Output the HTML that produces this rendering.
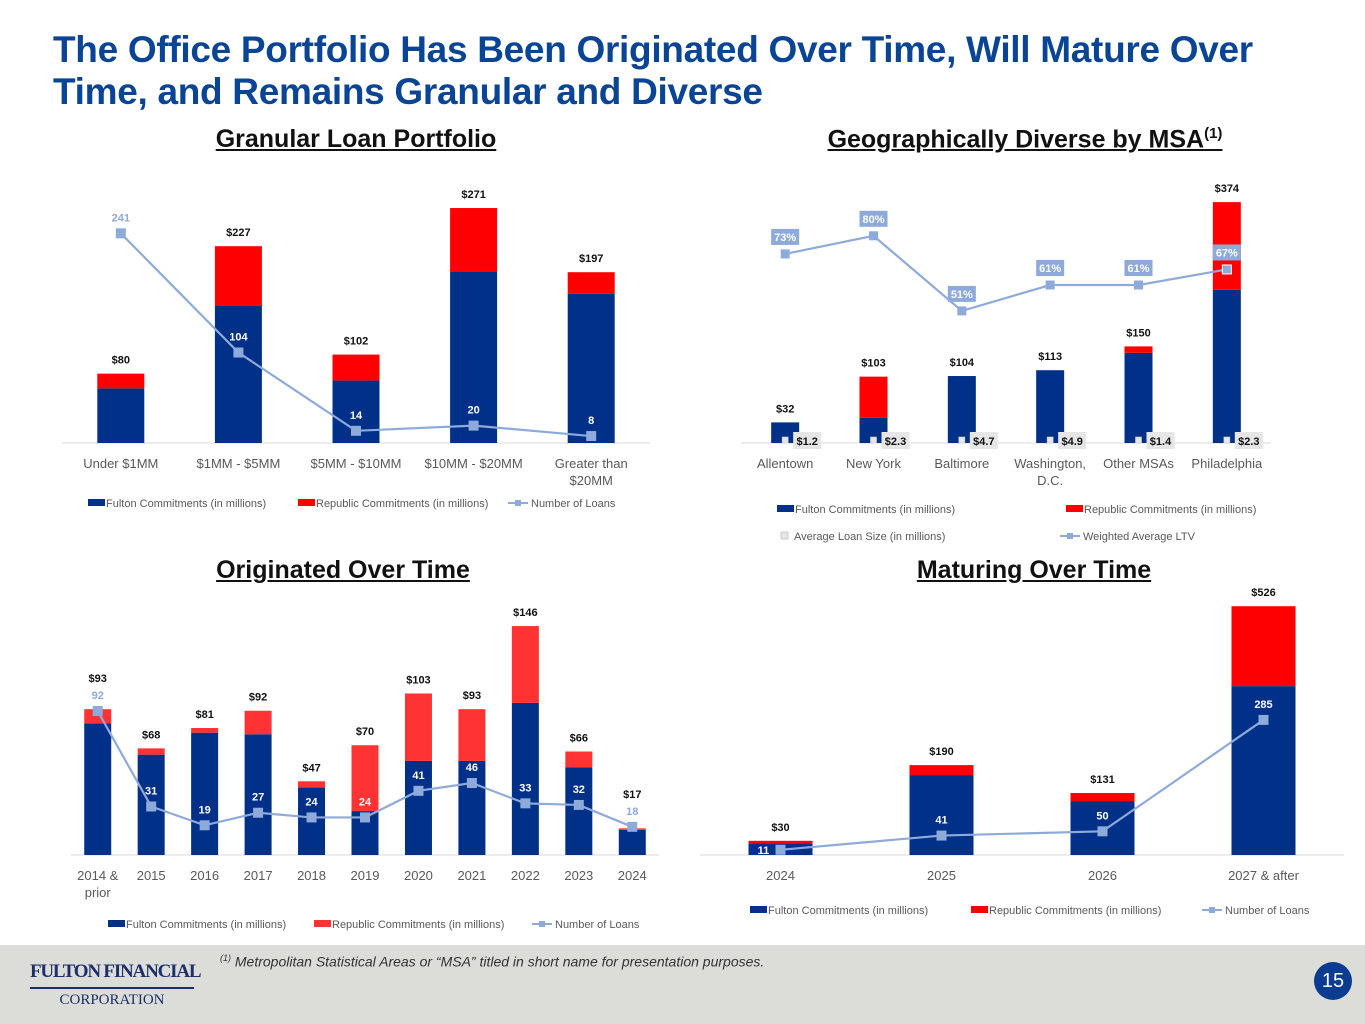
<!DOCTYPE html>
<html><head><meta charset="utf-8">
<style>
html,body{margin:0;padding:0;}
body{width:1365px;height:1024px;position:relative;background:#fff;font-family:"Liberation Sans",Arial,sans-serif;overflow:hidden;}
.title{position:absolute;left:53px;top:29px;margin:0;font-size:37px;line-height:42px;font-weight:bold;color:#0a4595;letter-spacing:-0.3px;white-space:nowrap;}
.sec{position:absolute;font-size:25px;font-weight:bold;text-decoration:underline;color:#111;white-space:nowrap;transform:translateX(-50%);}
.footer{position:absolute;left:0;top:945px;width:1365px;height:79px;background:#dcdcd8;}
</style></head>
<body>
<h1 class="title">The Office Portfolio Has Been Originated Over Time, Will Mature Over<br>Time, and Remains Granular and Diverse</h1>
<div class="sec" style="left:356px;top:125px">Granular Loan Portfolio</div>
<div class="sec" style="left:1025px;top:125px">Geographically Diverse by MSA<sup style="font-size:15px">(1)</sup></div>
<div class="sec" style="left:343px;top:556px">Originated Over Time</div>
<div class="sec" style="left:1034px;top:556px">Maturing Over Time</div>
<div class="footer">
  <div style="position:absolute;left:30px;top:15px;width:164px;font-family:'Liberation Serif',serif;color:#1d2f6b;text-align:center">
    <div style="font-size:19px;font-weight:bold;letter-spacing:-1.2px;line-height:24px;white-space:nowrap">FULTON FINANCIAL</div>
    <div style="border-top:2px solid #1d2f6b;margin:3px 0 2px"></div>
    <div style="font-size:15px;line-height:18px;white-space:nowrap">CORPORATION</div>
  </div>
  <div style="position:absolute;left:220px;top:8px;font-size:14px;font-style:italic;color:#333"><sup style="font-size:9px">(1)</sup> Metropolitan Statistical Areas or “MSA” titled in short name for presentation purposes.</div>
  <div style="position:absolute;left:1314px;top:17px;width:38px;height:38px;border-radius:50%;background:#0a3d8f;color:#fff;font-size:20px;line-height:38px;text-align:center">15</div>
</div>
<svg id="svg" width="1365" height="1024" style="position:absolute;left:0;top:0"></svg>
<script>
// Chart 1: Granular Loan Portfolio
const c1Cats=[["Under $1MM"],["$1MM - $5MM"],["$5MM - $10MM"],["$10MM - $20MM"],["Greater than","$20MM"]];
const c1Fulton=[63,158,72,198,172];
const c1Republic=[17,69,30,73,25];
const c1Totals=["$80","$227","$102","$271","$197"];
const c1Loans=[241,104,14,20,8];
// Chart 2: Geographic
const c2Cats=[["Allentown"],["New York"],["Baltimore"],["Washington,","D.C."],["Other MSAs"],["Philadelphia"]];
const c2Fulton=[32,39,104,113,140,238];
const c2Republic=[0,64,0,0,10,136];
const c2Totals=["$32","$103","$104","$113","$150","$374"];
const c2AvgSize=[1.2,2.3,4.7,4.9,1.4,2.3];
const c2LTV=[73,80,51,61,61,67];
// Chart 3: Originated
const c3Cats=[["2014 &","prior"],["2015"],["2016"],["2017"],["2018"],["2019"],["2020"],["2021"],["2022"],["2023"],["2024"]];
const c3Fulton=[84,64,78,77,43,28,60,60,97,56,16];
const c3Republic=[9,4,3,15,4,42,43,33,49,10,1];
const c3Totals=["$93","$68","$81","$92","$47","$70","$103","$93","$146","$66","$17"];
const c3Loans=[92,31,19,27,24,24,41,46,33,32,18];
// Chart 4: Maturing
const c4Cats=[["2024"],["2025"],["2026"],["2027 & after"]];
const c4Fulton=[25,169,114,357];
const c4Republic=[5,21,17,169];
const c4Totals=["$30","$190","$131","$526"];
const c4Loans=[11,41,50,285];

const NS="http://www.w3.org/2000/svg";
const svg=document.getElementById('svg');
function mk(tag,attrs,parent){const e=document.createElementNS(NS,tag);for(const k in attrs)e.setAttribute(k,attrs[k]);(parent||svg).appendChild(e);return e;}
function txt(x,y,s,attrs,parent){const t=mk('text',Object.assign({x:x,y:y,'font-family':'Liberation Sans, Arial, sans-serif','text-anchor':'middle'},attrs),parent);t.textContent=s;return t;}

function chart(cfg){
  const g=mk('g',{});
  
  
  const n=cfg.cats.length;
  const step=(cfg.x1-cfg.x0)/n;
  const xc=i=>cfg.x0+step*(i+0.5);
  const y=v=>cfg.base-v*cfg.scale;
  const yl=v=>cfg.base-v*cfg.lscale;
  const ax=mk('line',{x1:cfg.x0,x2:cfg.x1,y1:cfg.base,y2:cfg.base,stroke:'#d9d9d9','stroke-width':1},g);
  
  
  for(let i=0;i<n;i++){
    const f=cfg.fulton[i],r=cfg.rep[i];
    const b1=mk('rect',{x:xc(i)-cfg.bw/2,y:y(f),width:cfg.bw,height:f*cfg.scale,fill:'#003087'},g);
    
    
    if(r>0){
      const b2=mk('rect',{x:xc(i)-cfg.bw/2,y:y(f+r),width:cfg.bw,height:r*cfg.scale,fill:cfg.red},g);
      
      
    }
    let ty=y(f+r)-10;
    if(cfg.loans){
      const my=yl(cfg.loans[i]);
      if(my<y(f+r)+6 && my>y(f+r)-30) ty=Math.min(ty,my-29);
    }
    const tl=txt(xc(i),ty,cfg.totals[i],{'font-size':11,'font-weight':'bold',fill:'#111'},g);
    
    
    cfg.cats[i].forEach((s,j)=>{
      const c=txt(xc(i),cfg.base+25+j*17,s,{'font-size':13,fill:'#595959'},g);
      
      
    });
  }
  if(cfg.loans){
    const pts=cfg.loans.map((v,i)=>xc(i)+','+yl(v)).join(' ');
    const ln=mk('polyline',{points:pts,fill:'none',stroke:'#8eaadb','stroke-width':2.2},g);
    
    
    cfg.loans.forEach((v,i)=>{
      const m=mk('rect',{x:xc(i)-5,y:yl(v)-5,width:10,height:10,fill:'#8eaadb'},g);
      
      
      const top=y(cfg.fulton[i]+cfg.rep[i]);
      let lx=xc(i),ly=yl(v)-12,fill;
      if(ly>top+4){fill='#fff';}
      else if(yl(v)>top+2){lx=xc(i)-17;ly=yl(v)+4;fill='#fff';}
      else{fill='#8eaadb';}
      const t=txt(lx,ly,String(v),{'font-size':11,'font-weight':'bold',fill:fill},g);
      
      
    });
  }
  return {g,xc,y};
}
function legend(items,x,yy){
  items.forEach(it=>{
    const g=mk('g',{});
    
    
    if(it.type==='line'){
      mk('line',{x1:it.x,x2:it.x+20,y1:yy-4,y2:yy-4,stroke:'#8eaadb','stroke-width':2},g);
      mk('rect',{x:it.x+7,y:yy-7,width:6,height:6,fill:'#8eaadb'},g);
      txt(it.x+23,yy,it.label,{'font-size':11,fill:'#595959','text-anchor':'start'},g);
    }else if(it.type==='sq'){
      mk('rect',{x:it.x+4,y:yy-8,width:7,height:7,fill:'#e6e6e6',stroke:'#bbb','stroke-width':0.7},g);
      txt(it.x+17,yy,it.label,{'font-size':11,fill:'#595959','text-anchor':'start'},g);
    }else{
      mk('rect',{x:it.x,y:yy-8,width:17,height:7,fill:it.color},g);
      txt(it.x+18,yy,it.label,{'font-size':11,fill:'#595959','text-anchor':'start'},g);
    }
  });
}
const F='Fulton Commitments (in millions)',R='Republic Commitments (in millions)',L='Number of Loans';

chart({name:'granular-chart',cats:c1Cats,fulton:c1Fulton,rep:c1Republic,totals:c1Totals,loans:c1Loans,x0:62,x1:650,base:443,scale:0.867,lscale:0.87,bw:47,red:'#ff0000'});
legend([{x:88,color:'#003087',label:F},{x:298,color:'#ff0000',label:R},{x:508,type:'line',label:L}],0,507);

const c2=chart({name:'geographic-chart',cats:c2Cats,fulton:c2Fulton,rep:c2Republic,totals:c2Totals,x0:741,x1:1271,base:443,scale:0.644,bw:28,red:'#ff0000'});
{
  const ylt=v=>443-v*2.59;
  const pts=c2LTV.map((v,i)=>c2.xc(i)+','+ylt(v)).join(' ');
  const ln=mk('polyline',{points:pts,fill:'none',stroke:'#8eaadb','stroke-width':2.2});
  
  
  c2LTV.forEach((v,i)=>{
    const m=mk('rect',{x:c2.xc(i)-4.5,y:ylt(v)-4.5,width:9,height:9,fill:'#8eaadb',stroke:(i===5?'#fff':'none')});
    
    
    const bx=mk('rect',{x:c2.xc(i)-14,y:ylt(v)-25,width:28,height:16,fill:'#8eaadb'});
    
    
    const t=txt(c2.xc(i),ylt(v)-13,v+'%',{'font-size':11,'font-weight':'bold',fill:'#fff'});
    
    
  });
  c2AvgSize.forEach((v,i)=>{
    const m=mk('rect',{x:c2.xc(i)-3,y:437,width:6,height:6,fill:'#e6e6e6',stroke:'#ccc','stroke-width':0.6});
    
    
    const bx=mk('rect',{x:c2.xc(i)+8,y:432,width:28,height:17,fill:'#e6e6e6'});
    
    
    const t=txt(c2.xc(i)+22,445,'$'+v.toFixed(1),{'font-size':11,'font-weight':'bold',fill:'#111'});
    
    
  });
}
legend([{x:777,color:'#003087',label:F},{x:1066,color:'#ff0000',label:R}],0,513);
legend([{x:777,type:'sq',label:'Average Loan Size (in millions)'},{x:1060,type:'line',label:'Weighted Average LTV'}],0,540);

chart({name:'originated-chart',cats:c3Cats,fulton:c3Fulton,rep:c3Republic,totals:c3Totals,loans:c3Loans,x0:71,x1:659,base:855,scale:1.568,lscale:1.565,bw:27,red:'#ff3333'});
legend([{x:108,color:'#003087',label:F},{x:314,color:'#ff3333',label:R},{x:532,type:'line',label:L}],0,928);

chart({name:'maturing-chart',cats:c4Cats,fulton:c4Fulton,rep:c4Republic,totals:c4Totals,loans:c4Loans,x0:700,x1:1344,base:855,scale:0.473,lscale:0.474,bw:64,red:'#ff0000'});
legend([{x:750,color:'#003087',label:F},{x:971,color:'#ff0000',label:R},{x:1202,type:'line',label:L}],0,914);
</script>
</body></html>
